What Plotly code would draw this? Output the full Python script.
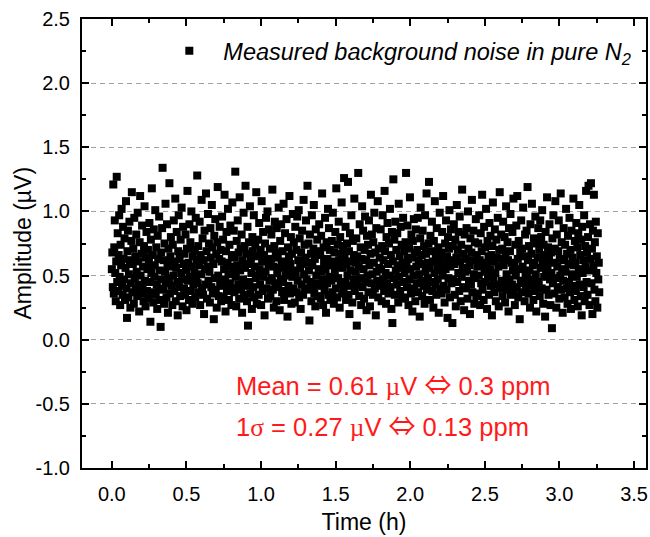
import plotly.graph_objects as go

# Time axis: first sample and sample interval (hours)
t_start = 0.0
t_step = 0.00327

# Measured amplitude (µV), read/, in time order
amplitude = [
0.55,0.68,0.41,1.21,0.36,0.72,0.93,0.52,0.30,0.61,1.27,0.45,0.83,0.38,0.66,0.97,0.49,0.27,0.74,0.58,1.02,0.42,0.35,0.88,0.63,
0.47,0.79,0.31,0.56,1.08,0.40,0.17,0.69,0.85,0.33,0.51,0.92,0.62,0.25,0.44,0.77,1.15,0.37,0.59,0.71,0.28,0.95,0.48,0.65,0.39,
0.82,0.53,0.34,0.99,0.61,0.43,0.22,0.76,1.12,0.50,0.36,0.67,0.89,0.41,0.57,0.30,0.73,1.04,0.46,0.26,0.64,0.84,0.38,0.55,0.70,
0.32,0.60,0.91,0.45,0.14,0.78,0.52,1.18,0.37,0.66,0.29,0.86,0.49,0.58,1.01,0.35,0.72,0.43,0.24,0.81,0.63,0.40,0.96,0.54,0.31,
0.10,0.68,0.47,0.87,1.34,0.39,0.62,0.28,0.75,0.53,1.06,0.44,0.33,0.90,0.59,0.21,0.71,0.48,1.22,0.36,0.65,0.80,0.42,0.57,0.27,
0.74,0.50,0.93,0.38,0.61,1.10,0.30,0.56,0.84,0.45,0.19,0.69,0.97,0.41,0.63,0.34,0.78,0.52,1.03,0.47,0.26,0.88,0.59,0.40,0.67,
0.35,0.82,0.54,0.23,0.71,1.16,0.46,0.60,0.31,0.90,0.49,0.76,0.38,1.00,0.57,0.28,0.65,0.43,0.86,0.52,0.70,0.33,0.95,0.48,0.62,
1.28,0.44,0.73,0.37,0.58,0.92,0.27,0.66,0.51,1.09,0.40,0.79,0.35,0.62,0.20,0.85,0.55,0.43,1.14,0.69,0.32,0.57,0.98,0.46,0.75,
0.53,0.29,0.87,0.64,0.41,1.05,0.72,0.36,0.59,0.16,0.81,0.48,0.94,0.39,0.67,0.25,0.76,1.19,0.50,0.34,0.63,0.88,0.45,0.70,0.30,
0.61,0.96,0.42,0.78,0.33,0.55,1.13,0.47,0.22,0.69,0.84,0.38,0.60,1.02,0.51,0.31,0.74,0.44,0.89,0.57,0.27,0.66,1.07,0.40,0.53,
0.85,0.37,0.64,1.31,0.49,0.26,0.77,0.58,0.93,0.43,0.68,0.32,1.11,0.54,0.71,0.39,0.82,0.21,0.62,0.47,0.99,0.35,0.73,0.56,1.20,
0.42,0.67,0.30,0.88,0.11,0.59,0.76,0.45,1.04,0.36,0.63,0.52,0.24,0.80,0.69,0.41,0.97,0.33,0.57,0.74,0.48,1.15,0.28,0.65,0.50,
0.78,0.35,0.91,0.55,0.43,0.70,0.27,1.08,0.61,0.38,0.84,0.49,0.66,0.19,0.75,0.53,0.95,0.40,0.62,1.00,0.32,0.58,0.86,0.46,0.71,
0.34,0.63,0.82,0.48,1.17,0.39,0.57,0.25,0.73,0.92,0.44,0.68,0.30,0.87,0.52,0.64,0.41,1.03,0.56,0.23,0.77,0.47,0.90,0.61,0.37,
0.69,0.45,1.06,0.31,0.60,0.83,0.50,0.38,0.94,0.55,0.18,0.72,0.42,0.65,1.12,0.36,0.59,0.80,0.28,0.67,0.49,0.98,0.40,0.76,0.54,
0.29,0.88,0.52,0.70,0.37,0.96,0.46,0.62,1.01,0.33,0.79,0.56,0.24,0.68,0.43,0.85,0.59,0.35,1.09,0.51,0.74,0.40,0.64,0.93,0.47,
0.60,1.20,0.39,0.75,0.54,0.15,0.82,0.45,0.67,0.30,0.97,0.58,0.41,0.71,1.05,0.36,0.63,0.26,0.86,0.50,0.44,0.78,0.34,0.69,0.55,
0.90,0.42,0.66,0.32,0.81,0.53,1.14,0.47,0.27,0.72,0.60,0.38,0.95,0.55,0.21,0.76,0.44,0.63,1.02,0.35,0.87,0.49,0.70,0.31,0.58,
0.46,0.77,0.37,0.99,0.61,0.28,0.68,0.52,0.84,0.40,1.18,0.57,0.33,0.74,0.48,0.92,0.62,0.25,0.80,0.43,0.67,1.07,0.36,0.56,0.73,
0.39,1.26,0.64,0.45,0.88,0.31,0.59,0.75,0.50,1.23,0.35,0.69,0.20,0.83,0.54,0.42,0.97,0.61,0.29,0.77,0.47,0.66,1.10,0.38,0.60,
0.53,0.79,0.11,0.65,0.43,1.30,0.57,0.34,0.90,0.48,0.72,0.27,0.63,1.04,0.41,0.85,0.55,0.32,0.70,0.96,0.45,0.62,0.23,0.81,0.50,
0.74,0.37,0.93,0.58,0.26,0.67,1.13,0.44,0.82,0.51,0.35,0.76,0.60,0.99,0.40,0.68,0.19,0.87,0.53,0.46,1.08,0.33,0.71,0.56,0.64,
0.42,0.86,0.55,0.30,0.73,0.97,0.47,0.62,0.38,1.16,0.69,0.52,0.28,0.80,0.44,0.91,0.59,0.36,0.75,0.50,1.02,0.41,0.66,0.24,0.84,
0.13,0.61,1.25,0.48,0.78,0.35,0.92,0.54,0.70,0.43,0.83,0.58,0.29,1.06,0.49,0.65,0.38,0.88,0.56,0.74,0.32,0.60,0.95,0.45,0.69,
0.52,0.33,0.76,1.30,0.58,0.41,0.89,0.63,0.27,0.71,0.47,1.11,0.55,0.36,0.82,0.64,0.22,0.77,0.50,0.94,0.40,0.68,0.30,0.86,0.57,
0.44,0.70,0.95,0.37,0.62,0.51,0.18,0.79,1.03,0.46,0.66,0.34,0.85,0.59,0.42,0.73,0.28,0.97,0.53,0.67,1.14,0.39,0.60,0.48,0.75,
1.23,0.56,0.31,0.81,0.45,0.69,0.92,0.38,0.61,0.25,0.77,0.52,1.08,0.43,0.66,0.35,0.87,0.58,0.47,0.72,0.21,0.63,0.99,0.40,0.54,
0.68,0.36,0.84,0.50,1.12,0.42,0.60,0.29,0.75,0.55,0.93,0.39,0.65,0.17,0.80,0.48,0.71,1.01,0.33,0.57,0.86,0.44,0.62,0.13,0.73,
0.47,0.90,0.59,0.35,0.78,0.26,0.64,1.05,0.45,0.70,0.52,0.84,0.38,0.96,0.61,0.30,0.74,0.49,1.17,0.56,0.41,0.67,0.23,0.82,0.53,
0.63,0.40,0.87,0.54,0.32,1.00,0.71,0.46,0.58,0.20,0.79,0.43,0.68,1.09,0.37,0.62,0.85,0.51,0.28,0.76,0.48,0.94,0.34,0.66,0.57,
0.36,0.75,0.50,0.97,0.62,0.27,0.83,0.44,0.69,1.13,0.39,0.58,0.31,0.88,0.53,0.72,0.45,1.02,0.60,0.24,0.77,0.49,0.65,0.35,0.91,
0.55,0.81,0.42,0.66,0.19,0.73,1.07,0.48,0.61,0.37,0.86,0.52,0.30,0.78,0.64,0.43,0.95,0.57,0.26,0.70,1.15,0.40,0.63,0.82,0.46,
0.71,0.34,0.92,0.58,0.45,0.80,0.29,0.67,1.04,0.51,0.39,0.76,0.62,0.22,0.87,0.47,0.69,0.98,0.35,0.60,0.43,0.84,0.54,1.10,0.38,
0.59,0.27,0.74,0.50,0.89,0.41,1.12,0.63,0.33,0.77,0.55,0.16,0.68,0.46,0.93,0.37,0.71,0.57,1.03,0.44,0.65,0.30,0.82,0.52,0.40,
0.85,0.48,1.19,0.62,0.36,0.73,0.54,0.25,0.90,0.42,0.67,1.06,0.47,0.58,0.31,0.79,0.60,0.38,0.96,0.51,0.22,0.75,0.45,0.64,0.87,
0.43,0.70,0.34,0.93,0.56,0.80,0.40,1.01,0.61,0.28,0.74,0.49,0.66,0.18,0.84,0.53,0.39,1.11,0.58,0.72,0.35,0.63,0.90,0.47,0.27,
0.68,0.52,0.09,0.79,0.44,0.97,0.60,0.36,0.71,1.08,0.48,0.25,0.82,0.57,0.41,0.69,0.93,0.32,0.63,0.50,1.14,0.39,0.76,0.55,0.21,
0.46,0.87,0.62,0.33,0.74,0.53,1.02,0.40,0.67,0.28,0.81,0.59,0.45,0.95,0.37,0.70,0.24,0.85,0.51,0.64,0.42,1.10,0.58,0.31,0.77,
0.60,0.38,0.91,0.49,0.72,0.26,0.83,0.55,1.05,0.43,0.66,0.34,0.78,0.19,0.88,0.52,0.62,0.41,0.97,0.30,0.73,0.57,1.16,0.45,0.68,
0.35,0.80,1.20,0.54,0.27,0.90,0.63,1.22,0.44,0.71,0.20,0.85,0.58,1.13,0.39,0.76,0.30,0.92,0.52,0.65,0.25,0.83,0.47,0.60,0.37,
]

# Axis tick values and labels (hyphen minus as in the reference)
y_tickvals = [-1.0, -0.5, 0.0, 0.5, 1.0, 1.5, 2.0, 2.5]
y_ticktext = ["-1.0", "-0.5", "0.0", "0.5", "1.0", "1.5", "2.0", "2.5"]
x_tickvals = [0.0, 0.5, 1.0, 1.5, 2.0, 2.5, 3.0, 3.5]
x_ticktext = ["0.0", "0.5", "1.0", "1.5", "2.0", "2.5", "3.0", "3.5"]

series_name = "<i>Measured background noise in pure N<sub>2</sub></i>"
x_title = "Time (h)"
y_title = "Amplitude (µV)"

SYM = "<span style='font-family:Liberation Serif'>{}</span>"
ARROW = "<span style='font-family:Noto Sans CJK JP;font-size:27px'>⇔</span>"
stat_lines = [
    "Mean = 0.61 " + SYM.format("µ") + "V " + ARROW + " 0.3 ppm",
    "1" + SYM.format("σ") + " = 0.27 " + SYM.format("µ") + "V " + ARROW + " 0.13 ppm",
]
stat_y = [-0.34, -0.66]

x_range = [-0.2, 3.58]
y_range = [-1.0, 2.5]

FONT = "Liberation Sans, Arial, sans-serif"

fig = go.Figure()
fig.add_trace(go.Scatter(
    x0=t_start, dx=t_step, y=amplitude,
    mode="markers", name=series_name,
    marker=dict(symbol="square", size=8, color="black", line=dict(width=0)),
))

axis_common = dict(
    showline=True, linecolor="black", linewidth=2, mirror="ticks",
    ticks="inside", ticklen=7, tickwidth=1.5, tickcolor="black",
    tickfont=dict(family=FONT, size=20, color="black"),
    zeroline=False, tickmode="array",
    minor=dict(ticks="inside", ticklen=4, tickwidth=1.5, tickcolor="black",
               tickmode="linear", tick0=0, dtick=0.25, showgrid=False),
)

fig.update_xaxes(
    range=x_range, tickvals=x_tickvals, ticktext=x_ticktext, showgrid=False,
    ticklabelstandoff=7,
    title=dict(text=x_title, font=dict(family=FONT, size=23, color="black"), standoff=10),
    **axis_common,
)
fig.update_yaxes(
    range=y_range, tickvals=y_tickvals, ticktext=y_ticktext, showgrid=True,
    gridcolor="#a0a0a0", griddash="5px,4px", gridwidth=1,
    ticklabelstandoff=6,
    **axis_common,
)

# y-axis title placed as a rotated text just left of the tick labels
fig.add_annotation(
    x=0, y=0.5, xref="paper", yref="paper", xanchor="center", yanchor="middle",
    xshift=-60, text=y_title, textangle=-90, showarrow=False,
    font=dict(family=FONT, size=23, color="black"),
)

for line, yv in zip(stat_lines, stat_y):
    fig.add_annotation(
        x=0.82, y=yv, xref="x", yref="y",
        text=line, showarrow=False, xanchor="left", yanchor="middle",
        font=dict(family=FONT, size=25.5, color="#ff1a1a"),
    )

fig.update_layout(
    width=650, height=537,
    margin=dict(l=82, r=2, t=19, b=69),
    plot_bgcolor="white", paper_bgcolor="white",
    showlegend=True,
    legend=dict(
        x=0.13, y=0.929, xanchor="left", yanchor="middle",
        bgcolor="rgba(0,0,0,0)", itemwidth=58,
        font=dict(family=FONT, size=23.5, color="black"),
    ),
)

fig.write_html("out.html")
